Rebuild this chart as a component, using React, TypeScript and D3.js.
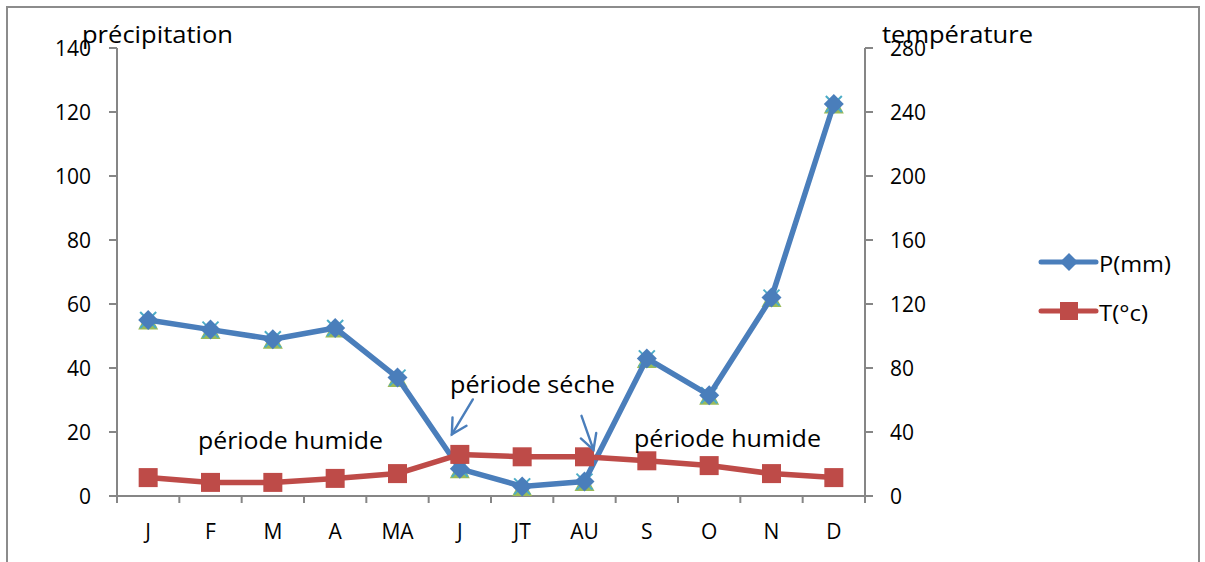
import React from "react";
import * as d3 from "d3";

const months = ["J", "F", "M", "A", "MA", "J", "JT", "AU", "S", "O", "N", "D"];
const precipitation = [55, 52, 49, 52.5, 37, 8.5, 3, 4.5, 43, 31.5, 62, 122.5];
const temperature = [11.5, 8.5, 8.5, 11, 14, 26, 24.5, 24.5, 22, 19, 14, 11.5];
const leftTicks = [0, 20, 40, 60, 80, 100, 120, 140];
const rightTicks = [0, 40, 80, 120, 160, 200, 240, 280];
const legendItems = ["P(mm)", "T(°c)"];
const legendWidths = [72, 49];

const W = 1205;
const H = 562;
const M = { left: 117, right: 865, top: 48, bottom: 496 };
const FONT = "'Open Sans', sans-serif";
const BLUE = "#4A7EBB";
const RED = "#BE4B48";
const GREEN = "#9BBB59";
const CYAN = "#4BACC6";
const AXIS = "#868686";

export default function App() {
  const idx = months.map((_, i) => i);
  const x = d3.scaleBand<number>().domain(idx).range([M.left, M.right]);
  const cx = (i: number) => (x(i) as number) + x.bandwidth() / 2;
  const yL = d3.scaleLinear().domain([0, 140]).range([M.bottom, M.top]);
  const yR = d3.scaleLinear().domain([0, 280]).range([M.bottom, M.top]);

  const lineP = d3
    .line<number>()
    .x((_, i) => cx(i))
    .y((d) => yL(d));
  const lineT = d3
    .line<number>()
    .x((_, i) => cx(i))
    .y((d) => yR(d));

  const diamond = (px: number, py: number, r: number) =>
    `M${px},${py - r}L${px + r},${py}L${px},${py + r}L${px - r},${py}Z`;
  const triangle = (px: number, py: number, r: number) =>
    `M${px},${py - r}L${px + r},${py + r * 0.85}L${px - r},${py + r * 0.85}Z`;

  const arrow = (tx: number, ty: number, dx: number, dy: number) => {
    const ang = Math.atan2(dy, dx);
    const L = 17;
    const a1 = ang + 0.5;
    const a2 = ang - 0.5;
    return (
      <g stroke={BLUE} strokeWidth={2.4} fill="none" strokeLinecap="round">
        <line x1={tx + dx} y1={ty + dy} x2={tx} y2={ty} />
        <polyline
          points={`${tx + L * Math.cos(a1)},${ty + L * Math.sin(a1)} ${tx},${ty} ${tx + L * Math.cos(a2)},${ty + L * Math.sin(a2)}`}
        />
      </g>
    );
  };

  return (
    <svg
      width={W}
      height={H}
      style={{ position: "absolute", left: 0, top: 0, background: "#fff" }}
      fontFamily={FONT}
    >
      <rect x={7} y={7} width={1192} height={570} fill="#fff" stroke="#8c8c8c" strokeWidth={2} />

      {/* axes */}
      <line x1={M.left} x2={M.left} y1={M.top} y2={M.bottom} stroke={AXIS} strokeWidth={2} />
      <line x1={M.right} x2={M.right} y1={M.top} y2={M.bottom} stroke={AXIS} strokeWidth={2} />
      <line x1={M.left - 8} x2={M.right + 8} y1={M.bottom} y2={M.bottom} stroke={AXIS} strokeWidth={2} />
      {leftTicks.map((t) => (
        <g key={"l" + t}>
          <line x1={M.left - 8} x2={M.left} y1={yL(t)} y2={yL(t)} stroke={AXIS} strokeWidth={2} />
          <text x={91} y={yL(t)} textAnchor="end" dominantBaseline="central" fontSize={21}>
            {t}
          </text>
        </g>
      ))}
      {rightTicks.map((t) => (
        <g key={"r" + t}>
          <line x1={M.right} x2={M.right + 8} y1={yR(t)} y2={yR(t)} stroke={AXIS} strokeWidth={2} />
          <text x={890} y={yR(t)} textAnchor="start" dominantBaseline="central" fontSize={21}>
            {t}
          </text>
        </g>
      ))}
      {d3.range(months.length + 1).map((i) => {
        const xx = i < months.length ? (x(i) as number) : M.right;
        return <line key={"xt" + i} x1={xx} x2={xx} y1={M.bottom} y2={M.bottom + 7} stroke={AXIS} strokeWidth={2} />;
      })}
      {months.map((m, i) => (
        <text key={"m" + i} x={cx(i)} y={531} textAnchor="middle" dominantBaseline="central" fontSize={21}>
          {m}
        </text>
      ))}

      {/* axis titles */}
      <text x={82} y={43} fontSize={24} textLength={151} lengthAdjust="spacingAndGlyphs">
        précipitation
      </text>
      <text x={882} y={43} fontSize={24} textLength={151} lengthAdjust="spacingAndGlyphs">
        température
      </text>

      {/* duplicate series markers (triangles and crosses) */}
      {precipitation.map((v, i) => (
        <path key={"tri" + i} d={triangle(cx(i), yL(v) + 1, 10)} fill={GREEN} />
      ))}
      {precipitation.map((v, i) => (
        <g key={"x" + i} stroke={CYAN} strokeWidth={2}>
          <line x1={cx(i) - 8} y1={yL(v) - 8} x2={cx(i) + 8} y2={yL(v) + 8} />
          <line x1={cx(i) + 8} y1={yL(v) - 8} x2={cx(i) - 8} y2={yL(v) + 8} />
        </g>
      ))}

      {/* precipitation */}
      <path d={lineP(precipitation) || ""} fill="none" stroke={BLUE} strokeWidth={5.5} strokeLinejoin="round" />
      {precipitation.map((v, i) => (
        <path key={"d" + i} d={diamond(cx(i), yL(v), 10)} fill={BLUE} />
      ))}

      {/* temperature */}
      <path d={lineT(temperature) || ""} fill="none" stroke={RED} strokeWidth={5.5} strokeLinejoin="round" />
      {temperature.map((v, i) => (
        <rect key={"s" + i} x={cx(i) - 9.5} y={yR(v) - 9.5} width={19} height={19} fill={RED} />
      ))}

      {/* annotations */}
      <text x={198} y={449} fontSize={24} textLength={185} lengthAdjust="spacingAndGlyphs">
        période humide
      </text>
      <text x={450} y={393} fontSize={24} textLength={165} lengthAdjust="spacingAndGlyphs">
        période séche
      </text>
      <text x={634} y={447} fontSize={24} textLength={187} lengthAdjust="spacingAndGlyphs">
        période humide
      </text>
      {arrow(cx(5) - 8, yR(temperature[5]) - 20, 21, -35)}
      {arrow(cx(7) + 9, yR(temperature[7]) - 7, -12, -34)}

      {/* legend */}
      {legendItems.map((name, i) => {
        const ly = 262 + i * 49;
        const color = i === 0 ? BLUE : RED;
        return (
          <g key={name}>
            <line x1={1041} x2={1096} y1={ly} y2={ly} stroke={color} strokeWidth={5} strokeLinecap="round" />
            {i === 0 ? (
              <path d={diamond(1069, ly, 9)} fill={color} />
            ) : (
              <rect x={1060} y={ly - 9} width={18} height={18} fill={color} />
            )}
            <text
              x={1099}
              y={ly + 1}
              dominantBaseline="central"
              fontSize={22}
              textLength={legendWidths[i]}
              lengthAdjust="spacingAndGlyphs"
            >
              {name}
            </text>
          </g>
        );
      })}
    </svg>
  );
}
